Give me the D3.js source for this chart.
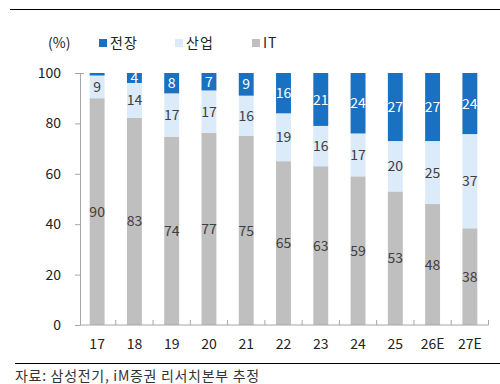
<!DOCTYPE html>
<html>
<head>
<meta charset="utf-8">
<script src="https://cdn.jsdelivr.net/npm/d3@7"></script>
<style>
  body { margin: 0; background: #fff; }
  svg { display: block; font-family: "Noto Sans CJK KR", "Noto Sans", sans-serif; }
</style>
</head>
<body>
<svg id="chart" width="500" height="384"></svg>
<script>
// data
const years = ['17', '18', '19', '20', '21', '22', '23', '24', '25', '26E', '27E'];
const itShare = [90, 83, 74, 77, 75, 65, 63, 59, 53, 48, 38];
const industryShare = [9, 14, 17, 17, 16, 19, 16, 17, 20, 25, 37];
const autoShare = [1, 4, 8, 7, 9, 16, 21, 24, 27, 27, 24];
const yTicks = [0, 20, 40, 60, 80, 100];

const series = [
  { key: 'IT', name: 'IT', values: itShare, color: '#bfbfbf', text: '#404040' },
  { key: 'ind', name: '산업', values: industryShare, color: '#dbebf9', text: '#404040' },
  { key: 'auto', name: '전장', values: autoShare, color: '#1a70c1', text: '#ffffff' },
];

const svg = d3.select('#chart');
const plotL = 80, plotR = 488.5, plotT = 73, plotB = 325;

const x = d3.scaleBand().domain(years).range([plotL - 1.5, plotR]).paddingInner(0.6).paddingOuter(0.3);
const y = d3.scaleLinear().domain([0, 100]).range([plotB, plotT]);

// frame lines
svg.append('line').attr('x1', 10).attr('x2', 500).attr('y1', 9.5).attr('y2', 9.5)
  .attr('stroke', '#000').attr('stroke-width', 1.2);
svg.append('line').attr('x1', 15).attr('x2', 500).attr('y1', 363.5).attr('y2', 363.5)
  .attr('stroke', '#000').attr('stroke-width', 1.2);

// stacked rows (normalised to 100)
const rows = years.map((yr, i) => {
  const total = series.reduce((s, se) => s + se.values[i], 0);
  let acc = 0;
  return series.map(se => {
    const v = se.values[i] / total * 100;
    const seg = { yr, se, raw: se.values[i], y0: acc, y1: acc + v };
    acc += v;
    return seg;
  });
}).flat();

const bars = svg.append('g');
bars.selectAll('rect').data(rows).join('rect')
  .attr('x', d => x(d.yr))
  .attr('width', x.bandwidth())
  .attr('y', d => y(d.y1))
  .attr('height', d => y(d.y0) - y(d.y1))
  .attr('fill', d => d.se.color);

bars.selectAll('text').data(rows.filter(d => d.raw > 1)).join('text')
  .attr('x', d => x(d.yr) + x.bandwidth() / 2)
  .attr('y', d => y((d.y0 + d.y1) / 2))
  .attr('dy', '0.36em')
  .attr('text-anchor', 'middle')
  .attr('font-size', 14)
  .attr('fill', d => d.se.text)
  .text(d => d.raw);

// y axis
const yAxis = svg.append('g').attr('transform', `translate(${plotL},0)`)
  .call(d3.axisLeft(y).tickValues(yTicks).tickSize(5).tickSizeOuter(0).tickPadding(14));
yAxis.select('.domain').attr('stroke', '#a6a6a6');
yAxis.selectAll('.tick line').attr('stroke', '#a6a6a6');
yAxis.selectAll('.tick text').attr('font-size', 14).attr('fill', '#222')
  .attr('font-family', '"Noto Sans CJK KR", sans-serif');
svg.append('line').attr('x1', plotL).attr('x2', plotL + 4).attr('y1', plotT + 0.5).attr('y2', plotT + 0.5)
  .attr('stroke', '#a6a6a6');

// x axis
const xAxis = svg.append('g').attr('transform', `translate(0,${plotB})`)
  .call(d3.axisBottom(x).tickSize(0).tickPadding(14));
xAxis.select('.domain').remove();
xAxis.append('line').attr('x1', plotL).attr('x2', plotR).attr('stroke', '#a6a6a6');
const step = x.step();
xAxis.selectAll('.sep').data(years).join('line')
  .attr('class', 'sep')
  .attr('x1', d => x(d) + x.bandwidth() / 2 + step / 2)
  .attr('x2', d => x(d) + x.bandwidth() / 2 + step / 2)
  .attr('y1', 0).attr('y2', -5).attr('stroke', '#a6a6a6');
xAxis.selectAll('.tick text').attr('font-size', 14).attr('fill', '#222')
  .attr('font-family', '"Noto Sans CJK KR", sans-serif');

// legend
svg.append('text').attr('x', 48).attr('y', 43).attr('dy', '0.35em')
  .attr('font-size', 14).attr('fill', '#222').text('(%)');
const legendItems = [series[2], series[1], series[0]];
const legendX = [99, 175, 252];
const lg = svg.append('g').selectAll('g').data(legendItems).join('g')
  .attr('transform', (d, i) => `translate(${legendX[i]},43)`);
lg.append('rect').attr('x', 0).attr('y', -4).attr('width', 8).attr('height', 8)
  .attr('fill', d => d.color);
lg.append('text').attr('x', 11).attr('dy', '0.35em').attr('font-size', 14)
  .attr('fill', '#222').attr('letter-spacing', 1).text(d => d.name);

// source
svg.append('text').attr('x', 15).attr('y', 376).attr('dy', '0.35em')
  .attr('font-size', 14).attr('letter-spacing', 0.7).attr('fill', '#333')
  .text('자료: 삼성전기, iM증권 리서치본부 추정');
</script>
</body>
</html>
